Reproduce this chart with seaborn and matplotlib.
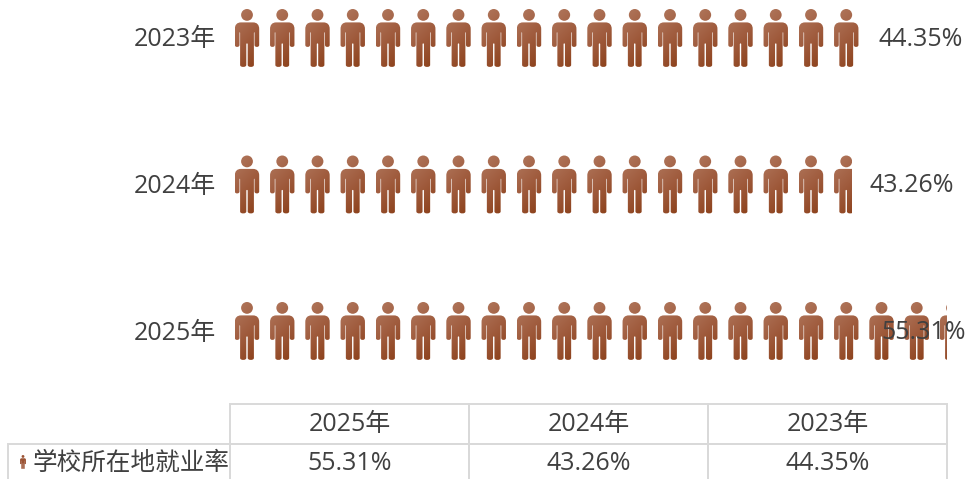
import numpy as np
import pandas as pd
import matplotlib
matplotlib.use("Agg")
import matplotlib.pyplot as plt
import seaborn as sns
from matplotlib.path import Path
from matplotlib.patches import PathPatch
from matplotlib.transforms import Affine2D, ScaledTranslation
from matplotlib.colors import LinearSegmentedColormap

categories = ["2023年", "2024年", "2025年"]
employment_rate = [44.35, 43.26, 55.31]
series_name = "学校所在地就业率"
table_columns = ["2025年", "2024年", "2023年"]
table_values = ["55.31%", "43.26%", "44.35%"]

W, H = 968, 479
sns.set_theme(style="white")
plt.rcParams["font.family"] = ["Open Sans", "Noto Sans CJK SC", "DejaVu Sans"]
TEXT = "#404040"
GRID = "#d9d9d9"

fig = plt.figure(figsize=(W / 100, H / 100), dpi=100)
ax_left, ax_right, ax_bottom_px = 230, 947, 404
ax = fig.add_axes([ax_left / W, (H - ax_bottom_px) / H,
                   (ax_right - ax_left) / W, ax_bottom_px / H])

df = pd.DataFrame({"year": categories, "rate": employment_rate})
sns.barplot(data=df, y="year", x="rate", order=categories, ax=ax,
            facecolor="none", edgecolor="none", width=0.4)

XLIM = (-34.66, 55.31)
row_px = 146.5
first_row_px = 38
YLIM = ((ax_bottom_px - first_row_px) / row_px, -first_row_px / row_px)
ax.set_xlim(*XLIM)
ax.set_ylim(*YLIM)
ux = (XLIM[1] - XLIM[0]) / (ax_right - ax_left)   # data per px
uy = 1 / row_px
sns.despine(ax=ax, left=True, bottom=True)
ax.set_xlabel("")
ax.set_ylabel("")
ax.set_xticks([])
ax.tick_params(axis="y", length=0, pad=9.8, labelsize=18, labelcolor=TEXT)
for lbl in ax.get_yticklabels():
    lbl.set_transform(lbl.get_transform() + ScaledTranslation(0, 0.01, fig.dpi_scale_trans))


def person_path():
    """Pictogram in px units, centred on 0,0, y pointing down."""
    top = -29
    left = [
        (Path.MOVETO, 0, 13.4),
        (Path.LINETO, -6, 13.4),
        (Path.CURVE4, -10, 13.4), (Path.CURVE4, -12.2, 15.8), (Path.CURVE4, -12.2, 20),
        (Path.LINETO, -12.2, 36),
        (Path.CURVE4, -12.2, 38.6), (Path.CURVE4, -7.5, 38.6), (Path.CURVE4, -7.5, 36),
        (Path.LINETO, -7.5, 24),
        (Path.CURVE3, -7.2, 22), (Path.CURVE3, -6.9, 24),
        (Path.LINETO, -6.9, 56),
        (Path.CURVE4, -6.9, 58.6), (Path.CURVE4, -0.8, 58.6), (Path.CURVE4, -0.7, 56),
        (Path.LINETO, -0.7, 35),
        (Path.CURVE3, 0, 33.5),
    ]
    right = [
        (Path.CURVE3, 0.7, 35),
        (Path.LINETO, 0.7, 56),
        (Path.CURVE4, 0.8, 58.6), (Path.CURVE4, 6.9, 58.6), (Path.CURVE4, 6.9, 56),
        (Path.LINETO, 6.9, 24),
        (Path.CURVE3, 7.2, 22), (Path.CURVE3, 7.5, 24),
        (Path.LINETO, 7.5, 36),
        (Path.CURVE4, 7.5, 38.6), (Path.CURVE4, 12.2, 38.6), (Path.CURVE4, 12.2, 36),
        (Path.LINETO, 12.2, 20),
        (Path.CURVE4, 12.2, 15.8), (Path.CURVE4, 10, 13.4), (Path.CURVE4, 6, 13.4),
        (Path.LINETO, 0, 13.4),
    ]
    pts = left + right
    body = Path([(x, top + y) for _, x, y in pts], [c for c, _, _ in pts])
    head = Path.circle((0, top + 5.9), 5.9)
    return Path.make_compound_path(body, head)


PERSON = person_path()
cmap = LinearSegmentedColormap.from_list("brown", ["#b27a60", "#a05c3e", "#8a3e17"])
gx, gy = np.meshgrid(np.linspace(0, 1, 48), np.linspace(0, 1, 116))
GRAD = cmap(0.3 * gx + 0.7 * gy)[:, :, :3]
PITCH_PX, FIRST_PX, HALF_W = 35.25, 17, 12.5

for bar in ax.patches:
    y = bar.get_y() + bar.get_height() / 2
    end = bar.get_x() + bar.get_width()
    cx = XLIM[0] + FIRST_PX * ux
    while cx - HALF_W * ux < end:
        x0, x1 = cx - HALF_W * ux, cx + HALF_W * ux
        frac = min(1.0, (end - x0) / (x1 - x0))
        cols = max(1, int(round(GRAD.shape[1] * frac)))
        img = ax.imshow(GRAD[:, :cols], extent=(x0, x0 + (x1 - x0) * frac,
                                                y + 30 * uy, y - 30 * uy),
                        aspect="auto", interpolation="bilinear", zorder=2)
        tr = Affine2D().scale(ux, uy).translate(cx, y) + ax.transData
        img.set_clip_path(PERSON, tr)
        cx += PITCH_PX * ux

ax.set_xlim(*XLIM)
ax.set_ylim(*YLIM)

max_val = max(employment_rate)
for bar, val in zip(ax.patches, employment_rate):
    y = bar.get_y() + bar.get_height() / 2
    end = bar.get_x() + bar.get_width()
    off_px = -66 if val == max_val else 19
    ax.annotate(f"{val:.2f}%", (end, y), xytext=(off_px * 0.72, -0.8),
                textcoords="offset points", ha="left", va="center",
                fontsize=18, color=TEXT, zorder=5, annotation_clip=False)

# Data table below the plot
col_w = [222, 239, 239, 239]
tb_left = 8
tb_top, tb_bot = 404, 484
tbl = ax.table(
    cellText=[[""] + table_columns, [""] + table_values],
    colWidths=[c / sum(col_w) for c in col_w],
    cellLoc="center",
    bbox=[(tb_left - ax_left) / (ax_right - ax_left),
          (ax_bottom_px - tb_bot) / ax_bottom_px,
          sum(col_w) / (ax_right - ax_left),
          (tb_bot - tb_top) / ax_bottom_px],
)
tbl.auto_set_font_size(False)
tbl.set_fontsize(18)
for (r, c), cell in tbl.get_celld().items():
    cell.set_edgecolor(GRID)
    cell.set_linewidth(1.4)
    cell.set_facecolor("none")
    cell.get_text().set_color(TEXT)
    cell.set_clip_on(False)
tbl[(0, 0)].visible_edges = ""
fig.text(33 / W, 1 - 463 / H, series_name, ha="left", va="center",
         fontsize=17.7, color=TEXT)

# Legend key inside the table label cell
key_tr = Affine2D().scale(0.24, 0.24).translate(23, 462).scale(1, -1).translate(0, H)
key = PathPatch(PERSON, facecolor="#9b5233", edgecolor="none", transform=key_tr, clip_on=False)
fig.add_artist(key)

fig.savefig("out.png", dpi=100)
